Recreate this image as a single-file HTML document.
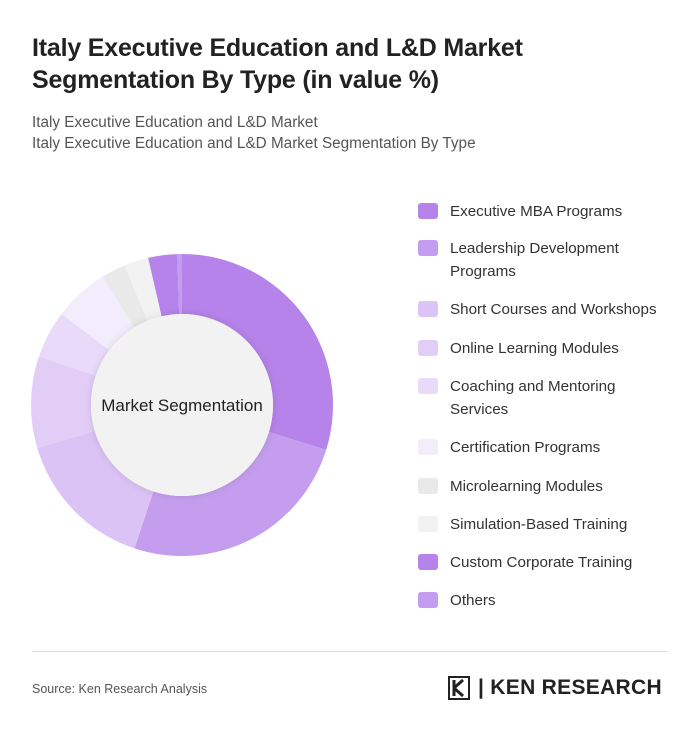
<!DOCTYPE html>
<html><head><meta charset="utf-8"><style>
body{margin:0;width:700px;height:736px;background:#fff;font-family:"Liberation Sans",sans-serif;position:relative;overflow:hidden}
.t{position:absolute;left:32px;top:32px;font-size:25px;font-weight:bold;color:#222;line-height:32px;letter-spacing:-0.2px}
.s{position:absolute;left:32px;top:112px;font-size:15.3px;color:#555;line-height:21px}
.lg{position:absolute;left:418px;font-size:15.2px;color:#333;line-height:23px}
.lg i{position:absolute;left:0;top:3px;width:20px;height:16px;border-radius:3px}
.lg span{position:absolute;left:32px;top:0;white-space:nowrap}
</style></head><body>
<div class="t">Italy Executive Education and L&amp;D Market<br>Segmentation By Type (in value %)</div>
<div class="s">Italy Executive Education and L&amp;D Market<br>Italy Executive Education and L&amp;D Market Segmentation By Type</div>
<svg id="donut" width="700" height="736" style="position:absolute;left:0;top:0">
<defs><filter id="sh" x="-20%" y="-20%" width="140%" height="140%"><feDropShadow dx="0" dy="0" stdDeviation="4" flood-color="#000" flood-opacity="0.12"/></filter></defs>
<g id="slices"></g>
<circle cx="182" cy="405" r="91" fill="#f2f2f2" filter="url(#sh)"/>
<text x="182" y="411" text-anchor="middle" font-size="17" fill="#222" font-family="Liberation Sans, sans-serif">Market Segmentation</text>
</svg>
<div id="legend"></div>
<div style="position:absolute;left:32px;top:651px;width:636px;height:1px;background:#ddd"></div>
<div style="position:absolute;left:32px;top:682px;font-size:12.5px;color:#555">Source: Ken Research Analysis</div>
<div style="position:absolute;left:448px;top:676px;width:240px;height:26px;white-space:nowrap">
<svg width="24" height="26" style="position:absolute;left:0;top:0"><rect x="1" y="1" width="20" height="22" fill="none" stroke="#222" stroke-width="2"/><path d="M6 4v16M6 12l9-8M6 12l9 8" stroke="#222" stroke-width="3" fill="none"/></svg>
<span style="position:absolute;left:30px;top:0px;font-size:21px;font-weight:bold;color:#222;letter-spacing:0.3px;white-space:nowrap">| KEN RESEARCH</span>
</div>
<script>
const categories=["Executive MBA Programs","Leadership Development Programs","Short Courses and Workshops","Online Learning Modules","Coaching and Mentoring Services","Certification Programs","Microlearning Modules","Simulation-Based Training","Custom Corporate Training","Others"];
const legendLabels=["Executive MBA Programs","Leadership Development<br>Programs","Short Courses and Workshops","Online Learning Modules","Coaching and Mentoring<br>Services","Certification Programs","Microlearning Modules","Simulation-Based Training","Custom Corporate Training","Others"];
const values=[29.8,25.3,15.3,9.8,5.1,5.9,2.6,2.6,3.1,0.5];
const colors=["#b583ea","#c59dee","#dbc3f5","#e2cdf7","#e9dafa","#f3ecfc","#e9e9e9","#f2f2f2","#b583ea","#c59dee"];
const cx=182,cy=405,R=151,r0=91;
const total=values.reduce((a,b)=>a+b,0);
const g=document.getElementById('slices');
function pt(a,rad){return [cx+rad*Math.sin(a),cy-rad*Math.cos(a)];}
let acc=0;
values.forEach((v,i)=>{
 const a0=acc/total*2*Math.PI;acc+=v;const a1=acc/total*2*Math.PI;
 const large=(a1-a0)>Math.PI?1:0;
 const [x0,y0]=pt(a0,R),[x1,y1]=pt(a1,R),[x2,y2]=pt(a1,r0),[x3,y3]=pt(a0,r0);
 const p=document.createElementNS('http://www.w3.org/2000/svg','path');
 p.setAttribute('d',`M${x0},${y0}A${R},${R} 0 ${large} 1 ${x1},${y1}L${x2},${y2}A${r0},${r0} 0 ${large} 0 ${x3},${y3}Z`);
 p.setAttribute('fill',colors[i]);
 
 
 g.appendChild(p);
});
const tops=[200,237,298,337,375,436,475,513,551,589];
const lg=document.getElementById('legend');
categories.forEach((c,i)=>{
 const d=document.createElement('div');d.className='lg';d.style.top=tops[i]+'px';
 d.innerHTML=`<i style="background:${colors[i]}"></i><span>${legendLabels[i]}</span>`;
 
 
 lg.appendChild(d);
});
</script>
</body></html>
